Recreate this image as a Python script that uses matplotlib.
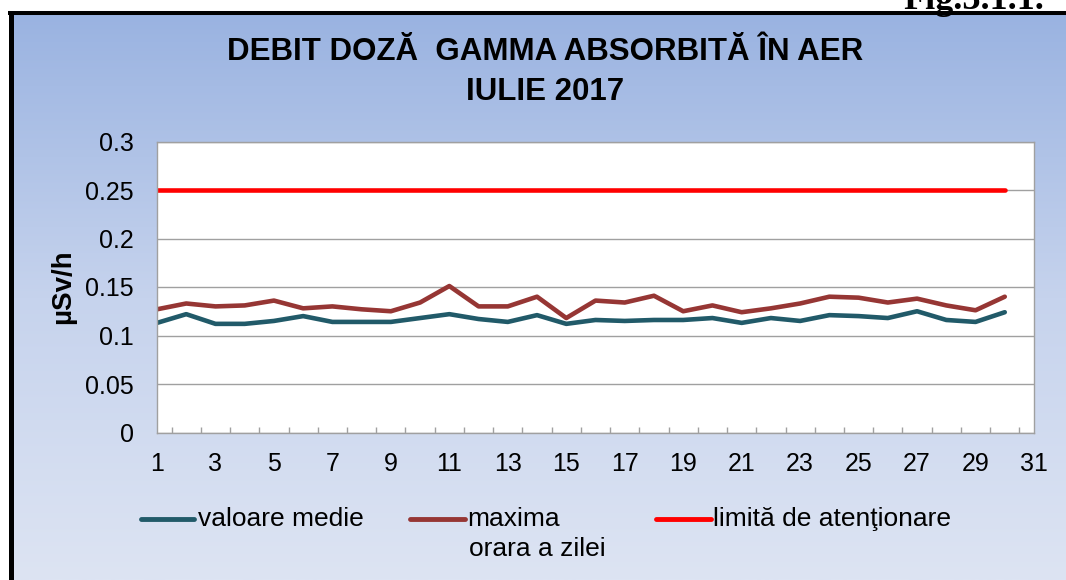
import numpy as np
import matplotlib
matplotlib.use("Agg")
import matplotlib.pyplot as plt
from matplotlib.colors import LinearSegmentedColormap
from matplotlib.lines import Line2D

plt.rcParams['font.family'] = ['Liberation Sans', 'DejaVu Sans']

# daily values, July 2017 (uSv/h)
days = list(range(1, 31))
valoare_medie = [0.113, 0.122, 0.112, 0.112, 0.115, 0.120, 0.114, 0.114, 0.114, 0.118,
                 0.122, 0.117, 0.114, 0.121, 0.112, 0.116, 0.115, 0.116, 0.116, 0.118,
                 0.113, 0.118, 0.115, 0.121, 0.120, 0.118, 0.125, 0.116, 0.114, 0.124]
maxima_orara = [0.127, 0.133, 0.130, 0.131, 0.136, 0.128, 0.130, 0.127, 0.125, 0.134,
                0.151, 0.130, 0.130, 0.140, 0.118, 0.136, 0.134, 0.141, 0.125, 0.131,
                0.124, 0.128, 0.133, 0.140, 0.139, 0.134, 0.138, 0.131, 0.126, 0.140]
limita = [0.25] * 30

x_labels = list(range(1, 32, 2))
y_ticks = [0, 0.05, 0.1, 0.15, 0.2, 0.25, 0.3]
y_labels = ['0', '0.05', '0.1', '0.15', '0.2', '0.25', '0.3']

c_medie = '#215a69'
c_max = '#963634'
c_lim = '#ff0000'
grey = '#a0a0a0'

W, H = 1066, 580
fig = plt.figure(figsize=(W / 100, H / 100), dpi=100)
fig.patch.set_facecolor('white')

# gradient background inside the frame
bg = fig.add_axes([13 / W, 0, 1 - 13 / W, 1 - 15 / H])
cmap = LinearSegmentedColormap.from_list('bg', ['#9ab3e1', '#c6d3ed', '#dde4f3'])
bg.imshow(np.linspace(0, 1, 256).reshape(-1, 1), aspect='auto', cmap=cmap,
          extent=[0, 1, 0, 1], origin='upper')
bg.set_axis_off()

# frame lines (left and top)
fig.add_artist(Line2D([10.5 / W, 10.5 / W], [0, 1 - 11 / H], color='black', lw=3.6,
                      transform=fig.transFigure, solid_capstyle='butt'))
fig.add_artist(Line2D([8 / W, 1], [1 - 13 / H, 1 - 13 / H], color='black', lw=2.9,
                      transform=fig.transFigure, solid_capstyle='butt'))

# figure number, partly above the page edge as in the source
fig.text(903 / W, 1 - 9 / H, 'Fig.3.1.1.', family='Liberation Serif', fontweight='bold',
         fontsize=26, ha='left', va='baseline')

ax = fig.add_axes([157 / W, 1 - 432.5 / H, 877 / W, 291 / H])
ax.set_facecolor('white')
ax.plot(days, valoare_medie, color=c_medie, lw=3.3, solid_capstyle='round', solid_joinstyle='round')
ax.plot(days, maxima_orara, color=c_max, lw=3.3, solid_capstyle='round', solid_joinstyle='round')
ax.plot(days, limita, color=c_lim, lw=3.3, solid_capstyle='round')

ax.set_xlim(1, 31)
ax.set_ylim(0, 0.3)
ax.set_xticks(x_labels)
ax.set_xticklabels([str(v) for v in x_labels])
ax.set_xticks(np.arange(1.5, 31, 1), minor=True)
ax.set_yticks(y_ticks)
ax.set_yticklabels(y_labels)
ax.tick_params(axis='x', which='major', length=0, pad=14, labelsize=18)
ax.tick_params(axis='x', which='minor', direction='in', length=4, color=grey, width=1)
ax.tick_params(axis='y', length=0, pad=16.5, labelsize=18)
ax.yaxis.grid(True, color=grey, lw=1)
ax.set_axisbelow(True)
for s in ax.spines.values():
    s.set_color(grey)
    s.set_linewidth(1)

fig.text(63 / W, 1 - 287 / H, 'µSv/h', rotation=90, fontweight='bold', fontsize=20,
         ha='center', va='center')

fig.text(545 / W, 1 - 72 / H, 'DEBIT DOZĂ  GAMMA ABSORBITĂ ÎN AER\nIULIE 2017',
         fontsize=22.5, fontweight='bold', ha='center', va='center', linespacing=1.42)

# legend drawn by hand to keep the two-line label layout
ly = 1 - 519 / H
items = [(141, 194, 198, c_medie, 'valoare medie'),
         (410, 465, 467, c_max, 'maxima'),
         (656, 711, 713, c_lim, 'limită de atenţionare')]
for x0, x1, xt, col, lab in items:
    fig.add_artist(Line2D([x0 / W, x1 / W], [ly, ly], color=col, lw=3.5,
                          transform=fig.transFigure, solid_capstyle='round'))
    fig.text(xt / W, ly, lab, fontsize=19, ha='left', va='center')
fig.text(469 / W, 1 - 549 / H, 'orara a zilei', fontsize=19, ha='left', va='center')

fig.savefig('out.png', dpi=100)
